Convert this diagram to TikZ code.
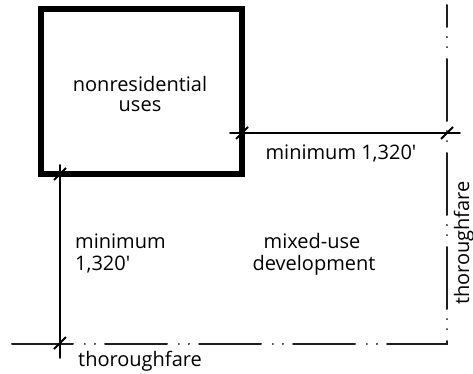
\documentclass[tikz,border=0pt]{standalone}
\usepackage{fontspec}
\setmainfont{Open Sans}
\tikzset{
  lbl/.style={font=\fontsize{20}{24}\selectfont, inner sep=0pt, anchor=base},
  dimline/.style={line width=1.6pt, line cap=round},
  tickmark/.style={line width=2pt},
  road/.style={line width=2pt, line cap=round, draw=black!88,
    dash pattern=on 62pt off 10pt on 0.1pt off 10pt on 0.1pt off 11.8pt,
    dash phase=40pt},
  boxline/.style={line width=5.5pt, draw=black}
}
\begin{document}
\begin{tikzpicture}[x=1pt,y=-1pt]
\useasboundingbox (0,0) rectangle (473,374);
% building box
\draw[boxline] (41,9) rectangle (242,174);
\node[lbl] (nr1) at (140,92) {nonresidential};
\node[lbl] (nr2) at (140,112) {uses};
% tick points
\coordinate (tA) at (60,174);
\coordinate (tB) at (60,343);
\coordinate (tC) at (242,133);
\coordinate (tD) at (447,133);
\coordinate (vtop) at (60,165);
\coordinate (vbot) at (60,358);
\coordinate (hl) at (230,133);
\coordinate (hr) at (460,133);
\coordinate (rtop) at (446.5,5);
\coordinate (corner) at (446.5,343.5);
\coordinate (lend) at (12,343.5);
% road lines (dash-dot-dot)
\draw[road] (rtop) -- (corner) -- (lend);
% dimension lines
\draw[dimline] (vtop) -- (vbot);
\draw[dimline] (hl) -- (hr);
% ticks
\foreach \t in {tA,tB,tC,tD}
  {\draw[tickmark] (\t) ++(-6,6) -- ++(12,-12);}
% labels
\node[lbl] (m1) at (341,160) {minimum 1,320\textquotesingle};
\node[lbl, anchor=base west] (m2a) at (75,248) {minimum};
\node[lbl, anchor=base west] (m2b) at (75,270) {1,320\textquotesingle};
\node[lbl] (mx1) at (312,248) {mixed-use};
\node[lbl] (mx2) at (314,270) {development};
\node[lbl, anchor=base west] (th1) at (78,366) {thoroughfare};
\node[lbl, rotate=90] (th2) at (469,243) {thoroughfare};
\end{tikzpicture}
\end{document}
